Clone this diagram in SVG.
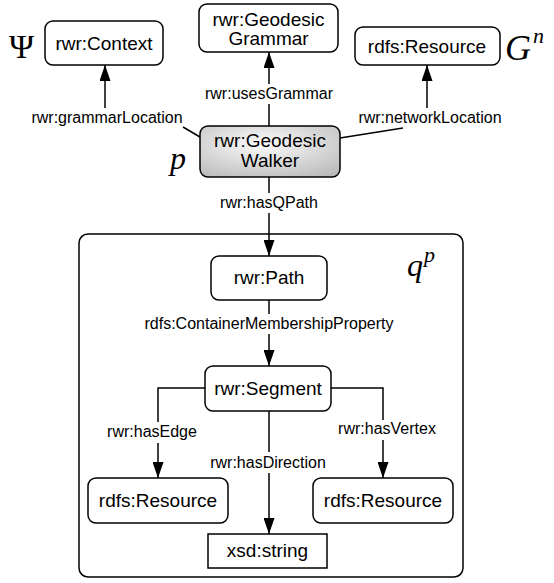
<svg xmlns="http://www.w3.org/2000/svg" width="554" height="583" viewBox="0 0 554 583">
<style>
.box{fill:#fff;stroke:#000;stroke-width:1.5}
.nt{font-family:"Liberation Sans",Arial,sans-serif;font-size:19px;text-anchor:middle;fill:#000}
.lb{font-family:"Liberation Sans",Arial,sans-serif;font-size:16px;text-anchor:middle;fill:#000}
.ln{fill:none;stroke:#000;stroke-width:1.5}
.math{font-family:"Liberation Serif","Times New Roman",serif;font-style:italic;fill:#000}
.up{font-family:"Liberation Serif","Times New Roman",serif;font-style:normal;fill:#000}
</style>
<defs>
<marker id="arr" markerUnits="userSpaceOnUse" markerWidth="16" markerHeight="11" refX="16" refY="5.5" orient="auto">
<path d="M0,0 L16,5.5 L0,11 z" fill="#000"/>
</marker>
<radialGradient id="g" cx="45%" cy="35%" r="85%">
<stop offset="0" stop-color="#fbfbfb"/>
<stop offset="1" stop-color="#b4b4b4"/>
</radialGradient>
</defs>
<g id="container">
<rect x="79" y="234" width="384" height="343" rx="9" class="box"/>
<text x="407" y="276" class="math" font-size="32">q</text>
<text x="424" y="262" class="math" font-size="22">p</text>
</g>
<g id="connectors">
<line class="ln" x1="200" y1="137" x2="183" y2="127"/>
<line class="ln" x1="105" y1="108" x2="105" y2="65" marker-end="url(#arr)"/>
<line class="ln" x1="269" y1="126" x2="269" y2="104"/>
<line class="ln" x1="269" y1="84" x2="269" y2="52" marker-end="url(#arr)"/>
<line class="ln" x1="340" y1="138" x2="403" y2="128"/>
<line class="ln" x1="427" y1="108" x2="427" y2="65" marker-end="url(#arr)"/>
<line class="ln" x1="269" y1="177" x2="269" y2="193"/>
<line class="ln" x1="269" y1="213" x2="269" y2="256" marker-end="url(#arr)"/>
<line class="ln" x1="269" y1="300" x2="269" y2="314"/>
<line class="ln" x1="269" y1="334" x2="269" y2="366" marker-end="url(#arr)"/>
<polyline class="ln" points="205,388 158,388 158,422"/>
<line class="ln" x1="158" y1="443" x2="158" y2="478" marker-end="url(#arr)"/>
<line class="ln" x1="269" y1="411" x2="269" y2="452"/>
<line class="ln" x1="269" y1="473" x2="269" y2="534" marker-end="url(#arr)"/>
<polyline class="ln" points="331,388 383,388 383,420"/>
<line class="ln" x1="383" y1="440" x2="383" y2="478" marker-end="url(#arr)"/>
<text x="107" y="123" class="lb">rwr:grammarLocation</text>
<text x="269" y="99" class="lb">rwr:usesGrammar</text>
<text x="430" y="123" class="lb">rwr:networkLocation</text>
<text x="269" y="208" class="lb">rwr:hasQPath</text>
<text x="269" y="329" class="lb">rdfs:ContainerMembershipProperty</text>
<text x="152" y="437" class="lb">rwr:hasEdge</text>
<text x="268" y="468" class="lb">rwr:hasDirection</text>
<text x="387" y="434" class="lb">rwr:hasVertex</text>
</g>
<g id="context">
<text x="9" y="58" class="up" font-size="34">Ψ</text>
<rect x="45" y="21" width="118" height="44" rx="8" class="box"/>
<text x="104" y="50" class="nt">rwr:Context</text>
</g>
<g id="grammar">
<rect x="199" y="4" width="139" height="48" rx="8" class="box"/>
<text x="268.5" y="26" class="nt">rwr:Geodesic</text>
<text x="268.5" y="45" class="nt">Grammar</text>
</g>
<g id="resource-top">
<rect x="355" y="27" width="145" height="38" rx="8" class="box"/>
<text x="427" y="53" class="nt">rdfs:Resource</text>
<text x="505" y="60" class="math" font-size="36">G</text>
<text x="533" y="43" class="math" font-size="22">n</text>
</g>
<g id="walker">
<rect x="200" y="126" width="140" height="51" rx="8" fill="url(#g)" stroke="#000" stroke-width="1.5"/>
<text x="270" y="147" class="nt">rwr:Geodesic</text>
<text x="270" y="167" class="nt">Walker</text>
<text x="170" y="169" class="math" font-size="32">p</text>
</g>
<g id="path">
<rect x="211" y="256" width="116" height="44" rx="8" class="box"/>
<text x="269" y="284" class="nt">rwr:Path</text>
</g>
<g id="segment">
<rect x="205" y="366" width="126" height="45" rx="8" class="box"/>
<text x="268" y="395" class="nt">rwr:Segment</text>
</g>
<g id="resource-left">
<rect x="88" y="478" width="140" height="45" rx="8" class="box"/>
<text x="158" y="507" class="nt">rdfs:Resource</text>
</g>
<g id="resource-right">
<rect x="313" y="478" width="140" height="45" rx="8" class="box"/>
<text x="383" y="507" class="nt">rdfs:Resource</text>
</g>
<g id="string">
<rect x="208" y="534" width="119" height="34" class="box"/>
<text x="267.5" y="557" class="nt">xsd:string</text>
</g>
</svg>
